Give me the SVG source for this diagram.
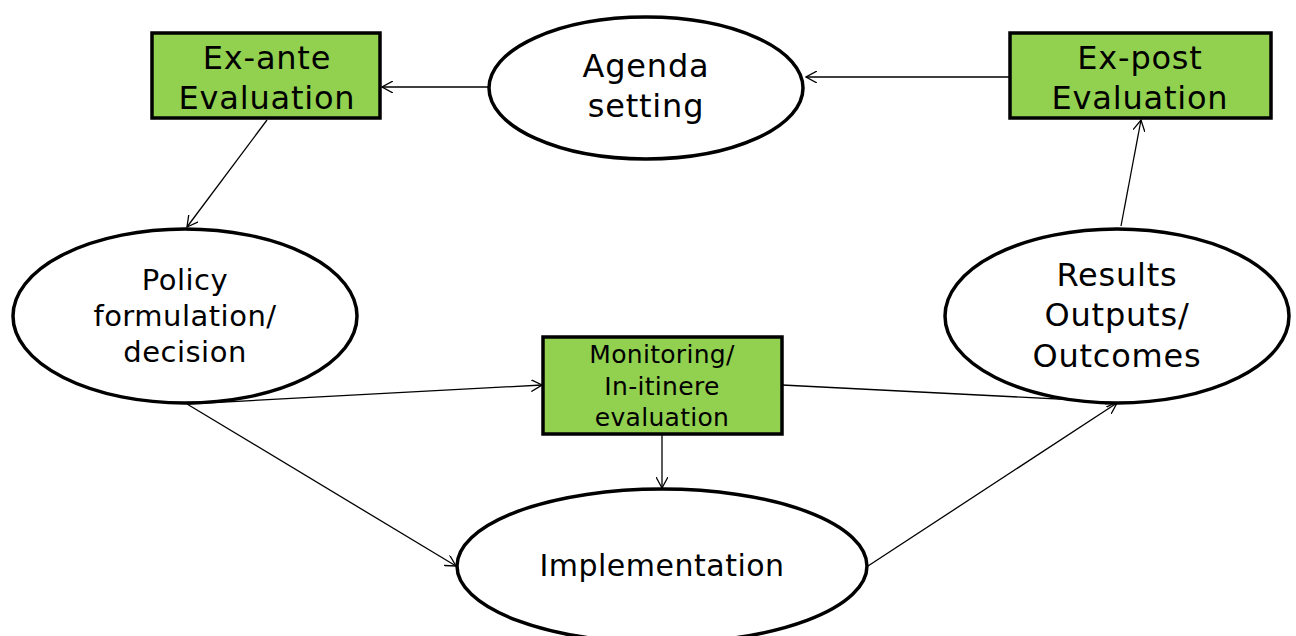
<svg xmlns="http://www.w3.org/2000/svg" width="1296" height="636" viewBox="0 0 1296 636">
<style>
.box{fill:#92D050;stroke:#000;stroke-width:3.5}
.ell{fill:#fff;stroke:#000;stroke-width:3.5}
.t{font-family:"DejaVu Sans",Verdana,sans-serif;text-anchor:middle;fill:#000}
.l{font-size:32px;letter-spacing:0.8px}
.m{font-size:29px;letter-spacing:0.5px}
.s{font-size:25px;letter-spacing:0.3px}
.c{stroke:#000;stroke-width:1.3;fill:none;marker-end:url(#a)}
</style>
<defs>
<marker id="a" viewBox="0 0 12 12" refX="11" refY="6" markerWidth="12" markerHeight="12" markerUnits="userSpaceOnUse" orient="auto">
<path d="M0,0 L11,6 L0,12" fill="none" stroke="#000" stroke-width="1.3"/>
</marker>
</defs>
<g id="connectors">
<line class="c" x1="489" y1="87" x2="382" y2="87"/>
<line class="c" x1="1009" y1="77" x2="806" y2="77"/>
<line class="c" x1="267" y1="120" x2="187" y2="227"/>
<line class="c" x1="187" y1="404" x2="542" y2="385"/>
<line class="c" x1="187" y1="404" x2="456" y2="566"/>
<line class="c" x1="662" y1="435" x2="662" y2="488"/>
<line class="c" x1="782" y1="385" x2="1117" y2="402"/>
<line class="c" x1="868" y1="566" x2="1117" y2="403"/>
<line class="c" x1="1121" y1="226" x2="1141" y2="120"/>
</g>
<g id="exante">
<rect class="box" x="152" y="33" width="228" height="85"/>
<text class="t l" x="267" y="69">Ex-ante</text>
<text class="t l" x="267" y="109">Evaluation</text>
</g>
<g id="agenda">
<ellipse class="ell" cx="646" cy="88" rx="157" ry="71"/>
<text class="t l" x="646" y="77">Agenda</text>
<text class="t l" x="646" y="117">setting</text>
</g>
<g id="expost">
<rect class="box" x="1010" y="33" width="261" height="85"/>
<text class="t l" x="1140" y="69">Ex-post</text>
<text class="t l" x="1140" y="109">Evaluation</text>
</g>
<g id="policy">
<ellipse class="ell" cx="185" cy="316" rx="172" ry="87"/>
<text class="t m" x="185" y="290">Policy</text>
<text class="t m" x="185" y="326">formulation/</text>
<text class="t m" x="185" y="362">decision</text>
</g>
<g id="results">
<ellipse class="ell" cx="1117" cy="316" rx="172" ry="87"/>
<text class="t l" x="1117" y="286">Results</text>
<text class="t l" x="1117" y="326">Outputs/</text>
<text class="t l" x="1117" y="367">Outcomes</text>
</g>
<g id="monitoring">
<rect class="box" x="543" y="337" width="239" height="97"/>
<text class="t s" x="662" y="363">Monitoring/</text>
<text class="t s" x="662" y="395">In-itinere</text>
<text class="t s" x="662" y="426">evaluation</text>
</g>
<g id="implementation">
<ellipse class="ell" cx="662" cy="566" rx="205" ry="77"/>
<text class="t" x="662" y="576" style="font-size:30px;letter-spacing:0.5px">Implementation</text>
</g>
</svg>
